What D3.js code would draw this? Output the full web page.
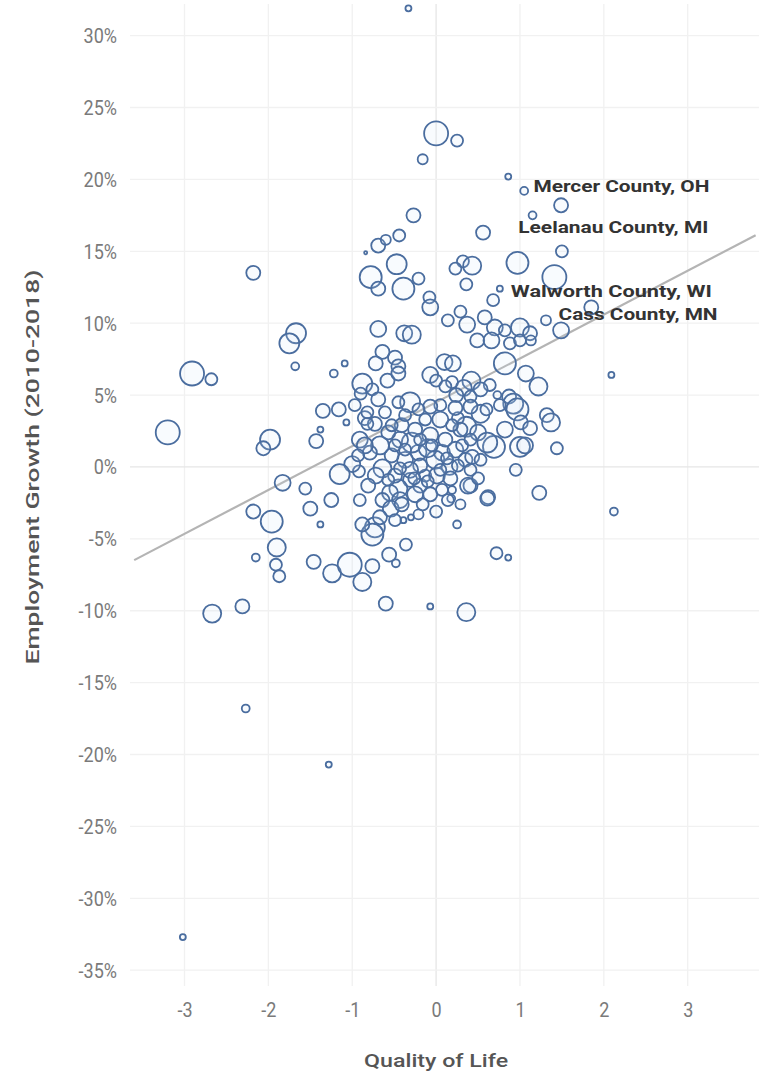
<!DOCTYPE html>
<html>
<head>
<meta charset="utf-8">
<script src="https://cdn.jsdelivr.net/npm/d3@7"></script>
<style>
html,body{margin:0;padding:0;background:#fff;}
svg{display:block;}
</style>
</head>
<body>
<svg id="chart" width="765" height="1075"></svg>
<script>
// ---- data ----
const qualityOfLife = [
-0.33,0.00,0.25,-0.16,0.86,1.05,1.49,-0.27,1.15,-0.44,0.56,-0.69,-0.60,-0.84,1.50,-2.18,-0.78,-0.47,-0.21,-0.39,
-0.69,0.32,0.43,0.23,0.36,0.97,1.41,0.76,0.68,-0.08,-0.07,0.29,0.14,0.37,0.58,0.70,1.00,1.12,0.82,1.31,
1.49,1.85,0.49,0.66,0.88,1.00,1.13,-1.67,-1.75,-1.68,-0.69,-0.38,-0.29,-0.49,-0.64,-0.45,-0.72,-1.09,-1.22,-2.91,
-2.68,-0.58,-0.45,-0.88,-0.76,-0.90,0.10,0.20,-0.07,0.00,0.19,0.42,0.82,1.07,1.22,0.64,0.11,0.33,0.53,0.24,
0.41,0.87,0.92,0.97,0.73,0.76,-0.31,-0.69,-0.45,-0.61,-1.35,-1.38,-1.16,-1.43,-0.85,-0.73,-0.82,-1.07,-3.20,-1.98,
-2.06,1.32,1.37,0.53,0.36,0.26,0.05,-0.13,0.69,1.00,1.06,1.44,0.95,1.23,0.62,0.41,0.19,0.18,0.25,0.16,
0.07,-0.01,-0.21,-0.29,-0.43,-0.37,-0.53,-0.67,-0.79,-0.64,-0.72,-0.92,-1.00,-1.15,-1.83,-1.56,-0.31,-0.45,-0.55,-0.19,
-0.13,-0.43,-0.64,-0.54,-0.41,-1.25,-1.50,-2.18,-1.96,-1.38,-0.73,-0.76,-0.67,-0.39,-0.30,-0.36,-2.15,-1.90,-1.91,-1.87,
-1.46,-1.24,-1.03,-0.88,-0.76,-0.56,-0.48,-0.60,-0.07,0.36,0.72,0.86,2.12,2.09,-2.67,-2.31,-2.27,-1.28,-3.02,-0.91,
-0.25,-0.07,0.11,0.23,0.35,-0.10,-0.19,0.01,0.17,-0.25,-0.49,0.29,0.50,0.43,0.61,0.38,0.61,0.31,0.07,-0.07,
-0.16,-0.31,-0.49,-0.85,-0.57,-0.41,-0.97,-0.82,0.23,0.05,-0.07,0.60,0.41,1.01,1.12,0.82,-0.91,-0.88,
-0.49,-0.37,-0.19,-0.05,0.13,0.26,0.05,-0.10,-0.26,-0.43,-0.57,0.14,0.29,0.00,-0.21,0.41,0.53,0.50,-0.37,-0.21,
0.19,0.41,-0.53,-0.93,-0.81
];
const employmentGrowth = [
31.9,23.2,22.7,21.4,20.2,19.2,18.2,17.5,17.5,16.1,16.3,15.4,15.8,14.9,15.0,13.5,13.2,14.1,13.1,12.4,
12.4,14.3,14.0,13.8,12.7,14.2,13.2,12.4,11.6,11.8,11.1,10.8,10.2,9.9,10.4,9.7,9.7,9.3,9.5,10.2,
9.5,11.1,8.8,8.8,8.6,8.8,8.8,9.3,8.6,7.0,9.6,9.3,9.2,7.6,8.0,7.0,7.2,7.2,6.5,6.5,
6.1,6.0,6.5,5.8,5.4,5.1,7.3,7.2,6.4,6.0,5.9,6.0,7.2,6.5,5.6,5.7,5.6,5.5,5.4,5.0,
4.9,4.9,4.4,4.0,5.0,4.3,4.5,4.7,4.5,3.8,3.9,2.6,4.0,1.8,3.4,3.0,3.0,3.1,2.4,1.9,
1.3,3.6,3.1,3.7,2.8,3.4,3.3,3.3,1.4,1.4,1.5,1.3,-0.2,-1.8,-2.1,-1.3,-1.6,-2.2,-4.0,0.0,
1.0,0.5,1.0,1.7,1.9,0.5,0.8,1.5,1.0,-0.1,-0.6,-0.3,0.2,-0.5,-1.1,-1.5,-0.9,-1.5,-1.8,-1.3,
-0.6,-2.3,-2.3,-2.9,-2.6,-2.3,-2.9,-3.1,-3.8,-4.0,-4.2,-4.7,-3.5,-3.7,-3.5,-5.4,-6.3,-5.6,-6.8,-7.6,
-6.6,-7.4,-6.8,-8.0,-6.9,-6.1,-6.7,-9.5,-9.7,-10.1,-6.0,-6.3,-3.1,6.4,-10.2,-9.7,-16.8,-20.7,-32.7,1.9,
2.6,2.2,1.9,1.2,0.5,1.3,0.1,-0.6,-0.8,-1.9,-3.7,2.6,2.4,0.7,1.7,-1.3,-2.2,1.5,-1.6,-1.9,
-2.6,-0.2,-0.6,1.5,2.4,2.9,4.3,3.8,4.1,4.3,4.2,4.0,4.2,3.1,2.7,2.6,-2.3,-4.0,
1.5,1.2,1.9,1.5,0.6,0.1,-0.2,-1.0,-0.8,-0.1,-0.9,-2.3,-2.6,-3.1,-3.3,-0.2,0.5,-0.8,3.6,4.0,
2.9,1.9,2.9,0.8,-1.3
];
// county size (population, thousands)
const population = [
7.5,120,30,21,7.5,13,41,41,13,30,41,41,21,2,30,41,101,83,30,101,
41,30,68,30,30,101,120,7.5,30,30,53,30,30,53,41,53,68,41,30,21,
53,41,41,53,30,30,21,83,83,13,53,53,68,41,41,41,41,7.5,13,120,
30,41,41,83,30,30,53,53,53,30,30,68,101,53,68,30,30,53,41,41,
30,41,83,101,13,30,83,41,30,30,41,7.5,41,41,41,41,30,7.5,120,83,
41,41,68,68,83,30,53,30,101,83,53,30,30,41,41,41,13,13,13,53,
53,68,53,83,53,53,41,68,41,68,53,30,53,83,53,30,41,68,53,41,
30,53,41,53,41,41,41,41,101,7.5,83,101,41,7.5,7.5,30,13,68,30,30,
41,68,120,68,41,41,13,41,7.5,68,30,7.5,13,7.5,68,41,13,7.5,7.5,53,
41,53,41,53,41,68,41,53,41,53,30,41,53,41,83,53,41,30,30,41,
30,53,41,53,41,41,30,30,41,30,41,30,41,41,41,53,30,41,
30,30,30,30,30,30,30,30,30,30,30,30,21,30,21,30,30,30,30,30,
30,30,30,30,41
];
const xTicks = [-3,-2,-1,0,1,2,3];
const yTicks = [-35,-30,-25,-20,-15,-10,-5,0,5,10,15,20,25,30];
const labelNames = ["Mercer County, OH","Leelanau County, MI","Walworth County, WI","Cass County, MN"];
const labelQoL = [1.16,0.98,0.89,1.46];
const labelGrowth = [19.5,16.7,12.2,10.6];
const trendIntercept = 4.5;   // % at QoL = 0
const trendSlope = 3.05;      // % per QoL unit
const xTitle = "Quality of Life";
const yTitle = "Employment Growth (2010-2018)";

// ---- chart ----
const svg = d3.select("#chart");
const plotLeft = 130, plotRight = 759, plotTop = 4, plotBottom = 986;
const x = d3.scaleLinear().domain([-3.65, 3.85]).range([plotLeft, plotRight]);
const y = d3.scaleLinear().domain([-36.1, 32.2]).range([plotBottom, plotTop]);
const r = d3.scaleSqrt().domain([0, 120]).range([0, 12]);

const points = qualityOfLife.map((q, i) => ({q, g: employmentGrowth[i], p: population[i]}));

// grid
const grid = svg.append("g");
grid.selectAll("line.v").data(xTicks).join("line")
  .attr("x1", d => x(d)).attr("x2", d => x(d))
  .attr("y1", plotTop).attr("y2", plotBottom)
  .attr("stroke", d => d === 0 ? "#e6e6e6" : "#f1f1f1").attr("stroke-width", 1.3);
grid.selectAll("line.h").data(yTicks).join("line")
  .attr("x1", plotLeft).attr("x2", plotRight)
  .attr("y1", d => y(d)).attr("y2", d => y(d))
  .attr("stroke", d => d === 0 ? "#e6e6e6" : "#f1f1f1").attr("stroke-width", 1.3);

// axes (text only)
const yAxis = d3.axisLeft(y).tickValues(yTicks).tickFormat(d => d + "%").tickSize(0).tickPadding(0);
const gy = svg.append("g").attr("transform", `translate(117,0)`).call(yAxis);
gy.select(".domain").remove();
gy.selectAll("text").attr("font-family", "Roboto, sans-serif").attr("font-size", 20)
  .attr("fill", "#7a7a7a").attr("dy", "0.35em");

const xAxis = d3.axisBottom(x).tickValues(xTicks).tickFormat(d3.format("d")).tickSize(0).tickPadding(0);
const gx = svg.append("g").attr("transform", `translate(0,1003)`).call(xAxis);
gx.select(".domain").remove();
gx.selectAll("text").attr("font-family", "Roboto, sans-serif").attr("font-size", 20)
  .attr("fill", "#7a7a7a").attr("dy", "0.71em").text(d => d < 0 ? "-" + Math.abs(d) : d);

// compress tick glyphs horizontally to match the narrow look
svg.selectAll(".tick text").each(function() {
  const w = this.getComputedTextLength();
  d3.select(this).attr("textLength", w * 0.9).attr("lengthAdjust", "spacingAndGlyphs");
});

// trend line
svg.append("line")
  .attr("x1", x(-3.6)).attr("y1", y(trendIntercept + trendSlope * -3.6))
  .attr("x2", x(3.81)).attr("y2", y(trendIntercept + trendSlope * 3.81))
  .attr("stroke", "#b4b4b4").attr("stroke-width", 2.2);

// bubbles
svg.append("g").selectAll("circle").data(points).join("circle")
  .attr("cx", d => x(d.q)).attr("cy", d => y(d.g)).attr("r", d => r(d.p))
  .attr("fill", "rgba(205,225,248,0.14)")
  .attr("stroke", "#4a6d9f").attr("stroke-width", 1.8);

// county labels
const labelWidths = [176, 190, 201, 159];
svg.append("g").selectAll("text").data(labelNames).join("text")
  .attr("x", (d, i) => x(labelQoL[i])).attr("y", (d, i) => y(labelGrowth[i]))
  .attr("dy", "0.36em")
  .attr("font-family", "Roboto, sans-serif").attr("font-weight", 700).attr("font-size", 16)
  .attr("fill", "#333").text(d => d)
  .attr("textLength", (d, i) => labelWidths[i]).attr("lengthAdjust", "spacingAndGlyphs");

// titles
svg.append("text").attr("x", x(0)).attr("y", 1060).attr("dy", "0.35em")
  .attr("text-anchor", "middle").attr("font-family", "Roboto, sans-serif")
  .attr("font-weight", 500).attr("font-size", 19).attr("fill", "#555")
  .attr("textLength", 144).attr("lengthAdjust", "spacingAndGlyphs").text(xTitle);

svg.append("text").attr("transform", `translate(33,${(plotTop + plotBottom) / 2 - 28}) rotate(-90)`)
  .attr("dy", "0.35em").attr("text-anchor", "middle").attr("font-family", "Roboto, sans-serif")
  .attr("font-weight", 500).attr("font-size", 18).attr("fill", "#555")
  .attr("textLength", 395).attr("lengthAdjust", "spacingAndGlyphs").text(yTitle);
</script>
</body>
</html>
